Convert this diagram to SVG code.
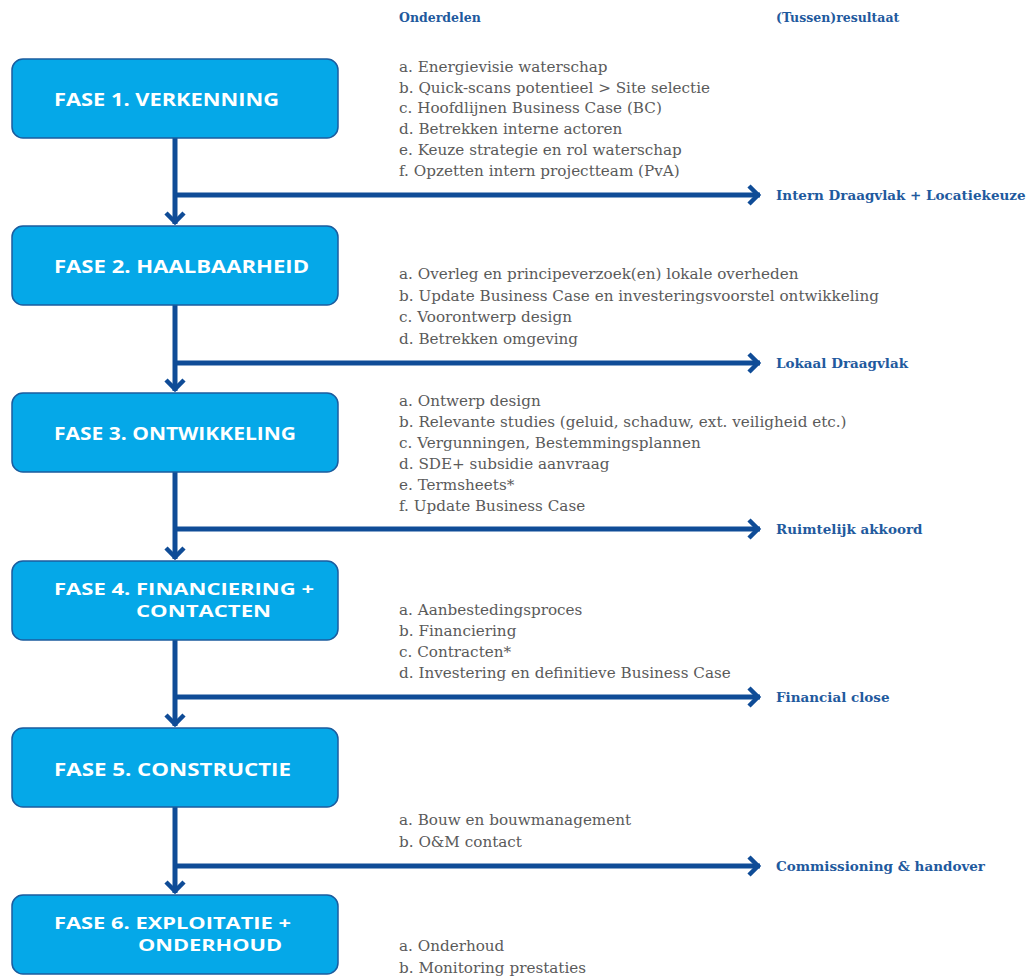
<svg xmlns="http://www.w3.org/2000/svg" width="1030" height="976" viewBox="0 0 1030 976">
<style>
.box{fill:#05a8e8;stroke:#1b5c9e;stroke-width:1.5}
.bt{font-family:"Open Sans","Liberation Sans",sans-serif;font-weight:700;font-size:17.5px;fill:#ffffff}
.bt2{font-family:"Open Sans","Liberation Sans",sans-serif;font-weight:700;font-size:15.5px;fill:#ffffff}
.hd{font-family:"DejaVu Serif","Liberation Serif",serif;font-weight:700;font-size:12.5px;fill:#1f5a9e}
.it{font-family:"DejaVu Serif","Liberation Serif",serif;font-size:15.2px;fill:#5a5a5a}
.rs{font-family:"DejaVu Serif","Liberation Serif",serif;font-weight:700;font-size:13.5px;fill:#1f5a9e}
.ln{fill:none;stroke:#0f4c97;stroke-width:5}
</style>
<defs>
<marker id="chev" viewBox="-16 -13 20 26" refX="0" refY="0" markerWidth="20" markerHeight="26" markerUnits="userSpaceOnUse" orient="auto">
<path d="M-11,-9 L-2,0 L-11,9" fill="none" stroke="#0f4c97" stroke-width="4.5"/>
</marker>
</defs>
<rect width="1030" height="976" fill="#ffffff"/>

<text class="hd" x="399" y="22">Onderdelen</text>
<text class="hd" x="776" y="22">(Tussen)resultaat</text>

<g id="connectors">
<path class="ln" d="M175,138 V224" marker-end="url(#chev)"/>
<path class="ln" d="M175,195 H760" marker-end="url(#chev)"/>
<path class="ln" d="M175,305 V391" marker-end="url(#chev)"/>
<path class="ln" d="M175,363 H760" marker-end="url(#chev)"/>
<path class="ln" d="M175,472 V559" marker-end="url(#chev)"/>
<path class="ln" d="M175,529 H760" marker-end="url(#chev)"/>
<path class="ln" d="M175,640 V726" marker-end="url(#chev)"/>
<path class="ln" d="M175,697 H760" marker-end="url(#chev)"/>
<path class="ln" d="M175,807 V893" marker-end="url(#chev)"/>
<path class="ln" d="M175,866 H760" marker-end="url(#chev)"/>
</g>

<g id="fase1">
<rect class="box" x="12" y="59" width="326" height="79" rx="11"/>
<text class="bt" x="54" y="106" textLength="225" lengthAdjust="spacingAndGlyphs">FASE 1. VERKENNING</text>
</g>
<g id="fase2">
<rect class="box" x="12" y="226" width="326" height="79" rx="11"/>
<text class="bt" x="54" y="273" textLength="255" lengthAdjust="spacingAndGlyphs">FASE 2. HAALBAARHEID</text>
</g>
<g id="fase3">
<rect class="box" x="12" y="393" width="326" height="79" rx="11"/>
<text class="bt" x="54" y="440" textLength="242" lengthAdjust="spacingAndGlyphs">FASE 3. ONTWIKKELING</text>
</g>
<g id="fase4">
<rect class="box" x="12" y="561" width="326" height="79" rx="11"/>
<text class="bt2" x="54" y="595" textLength="260" lengthAdjust="spacingAndGlyphs">FASE 4. FINANCIERING +</text>
<text class="bt2" x="136" y="617" textLength="135" lengthAdjust="spacingAndGlyphs">CONTACTEN</text>
</g>
<g id="fase5">
<rect class="box" x="12" y="728" width="326" height="79" rx="11"/>
<text class="bt" x="54" y="776" textLength="237" lengthAdjust="spacingAndGlyphs">FASE 5. CONSTRUCTIE</text>
</g>
<g id="fase6">
<rect class="box" x="12" y="895" width="326" height="79" rx="11"/>
<text class="bt2" x="54" y="929" textLength="237" lengthAdjust="spacingAndGlyphs">FASE 6. EXPLOITATIE +</text>
<text class="bt2" x="138" y="951" textLength="144" lengthAdjust="spacingAndGlyphs">ONDERHOUD</text>
</g>

<g id="onderdelen1">
<text class="it" x="399" y="72">a. Energievisie waterschap</text>
<text class="it" x="399" y="93">b. Quick-scans potentieel &gt; Site selectie</text>
<text class="it" x="399" y="113">c. Hoofdlijnen Business Case (BC)</text>
<text class="it" x="399" y="134">d. Betrekken interne actoren</text>
<text class="it" x="399" y="155">e. Keuze strategie en rol waterschap</text>
<text class="it" x="399" y="176">f. Opzetten intern projectteam (PvA)</text>
</g>
<g id="resultaat1"><text class="rs" x="776" y="200">Intern Draagvlak + Locatiekeuze</text></g>

<g id="onderdelen2">
<text class="it" x="399" y="279">a. Overleg en principeverzoek(en) lokale overheden</text>
<text class="it" x="399" y="301">b. Update Business Case en investeringsvoorstel ontwikkeling</text>
<text class="it" x="399" y="322">c. Voorontwerp design</text>
<text class="it" x="399" y="344">d. Betrekken omgeving</text>
</g>
<g id="resultaat2"><text class="rs" x="776" y="368">Lokaal Draagvlak</text></g>

<g id="onderdelen3">
<text class="it" x="399" y="406">a. Ontwerp design</text>
<text class="it" x="399" y="427">b. Relevante studies (geluid, schaduw, ext. veiligheid etc.)</text>
<text class="it" x="399" y="448">c. Vergunningen, Bestemmingsplannen</text>
<text class="it" x="399" y="469">d. SDE+ subsidie aanvraag</text>
<text class="it" x="399" y="490">e. Termsheets*</text>
<text class="it" x="399" y="511">f. Update Business Case</text>
</g>
<g id="resultaat3"><text class="rs" x="776" y="534">Ruimtelijk akkoord</text></g>

<g id="onderdelen4">
<text class="it" x="399" y="615">a. Aanbestedingsproces</text>
<text class="it" x="399" y="636">b. Financiering</text>
<text class="it" x="399" y="657">c. Contracten*</text>
<text class="it" x="399" y="678">d. Investering en definitieve Business Case</text>
</g>
<g id="resultaat4"><text class="rs" x="776" y="702">Financial close</text></g>

<g id="onderdelen5">
<text class="it" x="399" y="825">a. Bouw en bouwmanagement</text>
<text class="it" x="399" y="847">b. O&amp;M contact</text>
</g>
<g id="resultaat5"><text class="rs" x="776" y="871">Commissioning &amp; handover</text></g>

<g id="onderdelen6">
<text class="it" x="399" y="951">a. Onderhoud</text>
<text class="it" x="399" y="973">b. Monitoring prestaties</text>
</g>
</svg>
